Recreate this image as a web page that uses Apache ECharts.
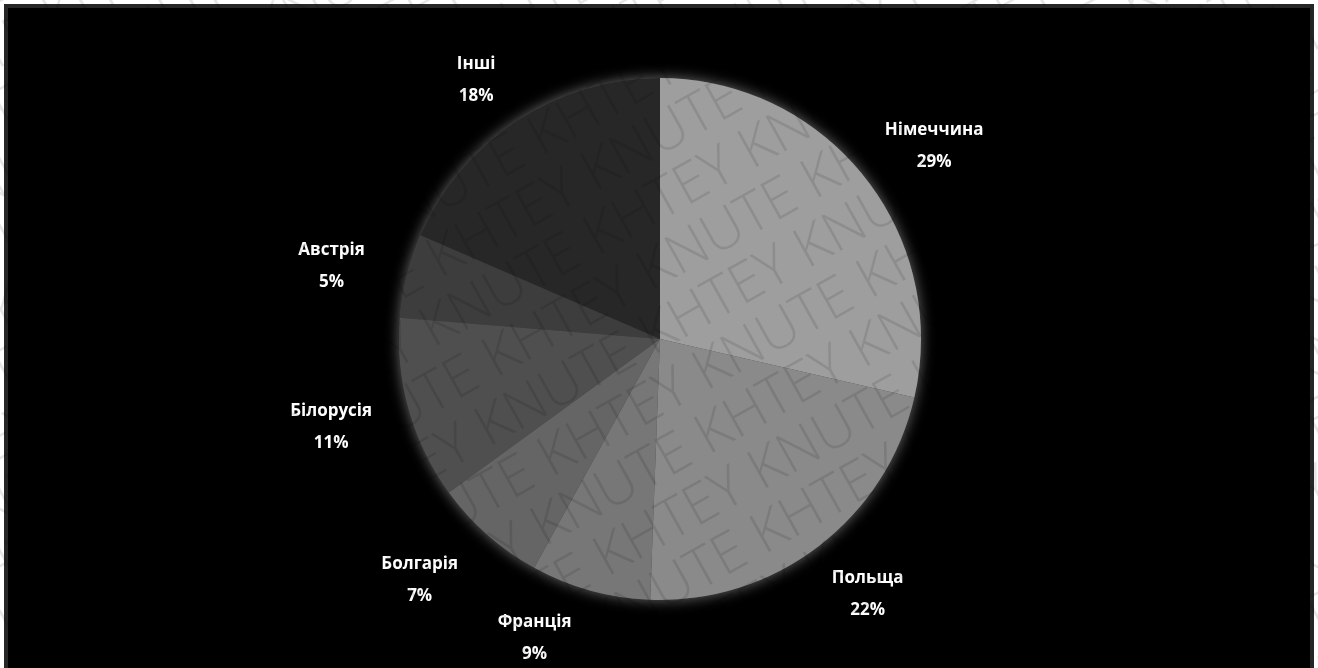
<!DOCTYPE html>
<html>
<head>
<meta charset="utf-8">
<script src="https://cdn.jsdelivr.net/npm/echarts@6/dist/echarts.min.js"></script>
<style>
html,body{margin:0;padding:0;background:#fff;}
#c{width:1318px;height:668px;}
</style>
</head>
<body>
<div id="c"></div>
<script>
var categories = ['Німеччина', 'Польща', 'Франція', 'Болгарія', 'Білорусія', 'Австрія', 'Інші'];
var values = [28.6, 22.0, 7.4, 7.0, 11.3, 5.2, 18.5];
var printedPct = ['29%', '22%', '9%', '7%', '11%', '5%', '18%'];

// Styling (not data)
var sliceColors = ['#9e9e9e', '#8a8a8a', '#777777', '#656565', '#4f4f4f', '#3d3d3d', '#272727'];
var labelNudge = [[7, 16], [-1, -11], [-31, 3], [-11, 16], [-3, 17], [-6, 19], [5, 21]];

var chart = echarts.init(document.getElementById('c'), null, {renderer: 'canvas'});

var data = categories.map(function (name, i) {
  return { name: name, value: values[i], itemStyle: { color: sliceColors[i] } };
});

// watermark texts
var wmChildren = [];
var rowA = 'KNUTE KHTEY KNUTE KHTEY KNUTE KHTEY KNUTE KHTEY KNUTE KHTEY KNUTE KHTEY KNUTE KHTEY';
var rowB = 'KHTEY KNUTE KHTEY KNUTE KHTEY KNUTE KHTEY KNUTE KHTEY KNUTE KHTEY KNUTE KHTEY KNUTE';
for (var j = -13; j <= 13; j++) {
  wmChildren.push({
    type: 'text',
    x: -1300 + ((j % 2 + 2) % 2 === 0 ? 0 : 40),
    y: j * 57,
    z: 100,
    style: {
      text: (j % 2 === 0 ? rowA : rowB),
      font: '300 56px "Open Sans", sans-serif',
      fill: 'rgba(0,0,0,0.10)',
      textVerticalAlign: 'middle'
    },
    silent: true
  });
}

var option = {
  backgroundColor: '#ffffff',
  animation: false,
  graphic: [
    {
      type: 'rect',
      z: -10,
      shape: { x: 6, y: 6, width: 1306, height: 680 },
      style: { fill: '#000000', stroke: '#262626', lineWidth: 4 },
      silent: true
    },
    {
      type: 'group',
      x: 659, y: 334,
      rotation: 0.51,
      z: 100,
      silent: true,
      children: wmChildren
    }
  ],
  series: [
    {
      type: 'pie',
      z: 1,
      center: [660, 339],
      radius: 261,
      silent: true,
      data: [{ value: 1, itemStyle: { color: '#444444' } }],
      itemStyle: { shadowBlur: 14, shadowColor: 'rgba(255,255,255,0.42)' },
      label: { show: false },
      labelLine: { show: false },
      emphasis: { disabled: true }
    },
    {
      type: 'pie',
      z: 2,
      center: [660, 339],
      radius: 261,
      startAngle: 90,
      clockwise: true,
      data: data,
      itemStyle: { borderWidth: 0 },
      label: {
        show: true,
        position: 'outside',
        color: '#ffffff',
        fontFamily: '"Open Sans", "Noto Sans", sans-serif',
        fontWeight: 'bold',
        fontSize: 17,
        lineHeight: 32,
        formatter: function (p) { return p.name + '\n' + printedPct[p.dataIndex]; }
      },
      labelLine: { show: false, length: 74, length2: 0 },
      labelLayout: function (params) {
        var n = labelNudge[params.dataIndex];
        return { align: 'center', verticalAlign: 'middle', dx: n[0], dy: n[1] };
      },
      emphasis: { disabled: true }
    }
  ]
};
chart.setOption(option);
</script>
</body>
</html>
